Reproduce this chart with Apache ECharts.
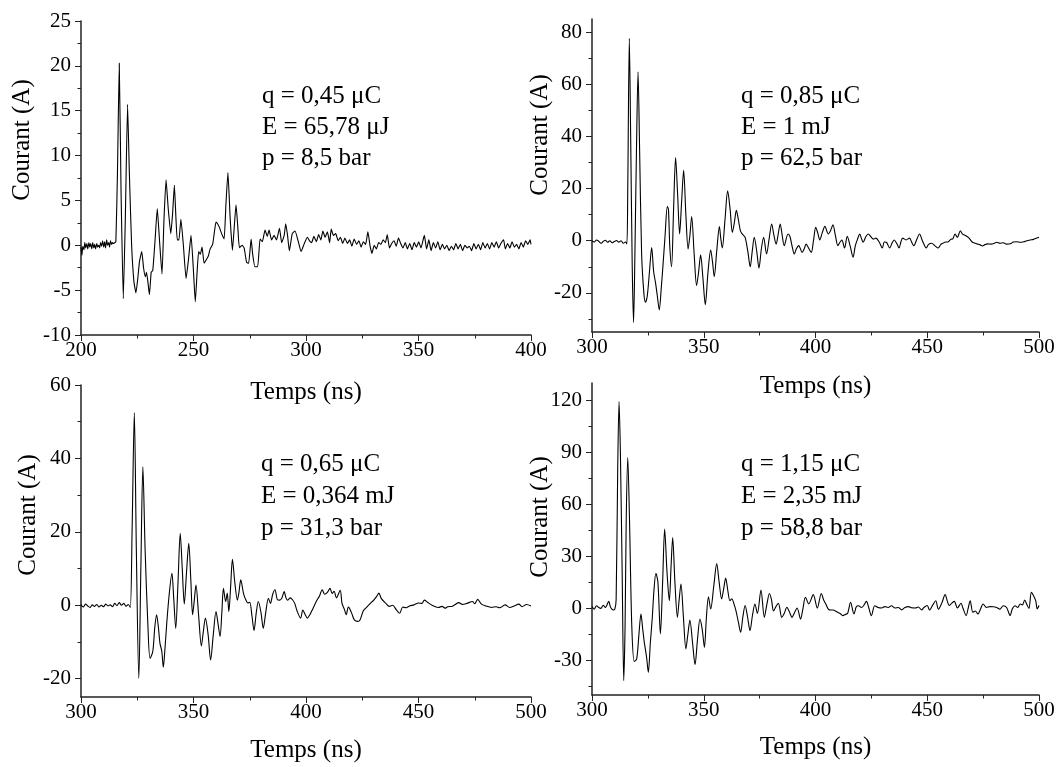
<!DOCTYPE html>
<html><head><meta charset="utf-8">
<script src="https://cdn.jsdelivr.net/npm/echarts@6/dist/echarts.min.js"></script>
<style>html,body{margin:0;padding:0;background:#fff}#c{width:1060px;height:767px}</style>
</head><body><div id="c"></div>
<script>
// ---------- Panel 1 (q = 0,45 µC) ----------
const time1 = [200.0,200.4,200.8,201.3,201.7,202.1,202.6,203.0,203.5,203.9,204.3,204.8,205.2,205.7,206.1,206.5,207.0,207.4,207.9,208.3,208.7,209.2,209.6,210.1,210.5,210.9,211.4,211.8,212.3,212.7,213.1,213.6,214.0,214.5,215.0,215.5,216.2,217.0,217.8,218.8,219.7,220.7,221.5,222.5,223.5,224.4,225.2,226.0,227.0,227.8,228.6,229.1,229.7,230.4,231.2,231.9,232.9,233.9,234.9,236.0,236.9,237.8,238.8,239.9,240.7,241.5,242.2,242.8,243.5,244.4,245.5,246.7,247.8,248.9,249.9,250.8,251.6,252.3,253.0,253.8,254.7,255.5,256.6,257.4,258.5,259.3,260.0,260.7,261.5,262.5,263.6,264.4,265.3,266.3,267.3,268.1,268.9,269.7,270.4,271.6,272.5,273.6,274.5,275.6,276.3,277.3,278.5,279.6,280.6,281.8,282.8,283.6,284.7,285.8,286.9,288.2,289.2,290.3,291.0,291.8,292.6,293.9,295.1,296.6,297.8,299.1,300.6,301.6,302.5,303.5,304.6,305.6,306.6,307.5,308.5,309.5,310.5,311.2,312.2,313.2,314.3,315.3,316.3,317.3,318.4,319.4,320.4,321.4,322.5,323.5,324.5,325.5,326.5,327.5,328.5,329.3,330.3,331.3,332.3,333.3,334.3,335.3,336.1,337.1,338.1,339.1,340.1,341.1,342.1,343.1,344.1,345.1,346.1,347.1,348.1,349.1,350.1,351.1,352.6,353.6,354.6,355.6,356.6,357.6,358.6,359.6,360.6,361.6,362.6,363.6,364.6,365.6,366.6,367.6,368.6,369.6,370.6,371.6,372.6,373.6,374.6,375.6,376.6,377.6,378.6,379.6,380.6,381.6,382.6,383.6,384.6,385.6,386.6,387.8,388.6,389.6,390.6,391.6,392.6,393.6,394.6,395.6,396.6,397.6,398.6,399.6,400.0];
const current1 = [-0.2,-1.1,-0.1,-0.5,0.3,-0.3,0.2,-0.4,0.3,-0.2,0.2,-0.4,0.3,-0.3,0.1,-0.4,0.2,-0.2,0.0,-0.3,0.3,-0.1,0.5,-0.2,0.4,-0.3,0.6,0.0,0.3,-0.2,0.5,0.1,0.3,0.2,0.3,0.4,8,20.3,6,-5.95,3,15.7,8,0,-4,-5.3,-3.8,-1.8,-0.7,-2.5,-3.5,-3.0,-4.0,-5.5,-3.0,-2.8,0.5,4.1,0.5,-3.2,3,7.3,4,1.3,3.5,6.7,3,0.6,0.6,2.9,0,-3.7,-1.5,1.1,-2.5,-6.3,-3,-0.7,-1.0,-0.2,-2.0,-1.7,-1.2,-0.4,0.1,1.5,2.6,2.4,2.0,1.3,0.7,4.5,8.1,3,-0.56,2,4.5,2,-0.26,0,-0.3,-1.9,-2.0,0.7,-1.0,-2.4,-2.4,0.7,0.4,1.7,1.0,1.7,0.6,1.1,0.6,1.9,0.3,1.1,2.4,1.1,-0.6,1.3,1.6,0.4,-0.7,0.1,0.9,0.5,0.3,1.0,0.4,1.2,0.6,1.6,0.9,1.5,0.3,1.8,1.1,1.3,0.5,0.9,0.2,0.8,0.2,0.6,-0.1,0.7,0.1,0.5,-0.2,0.4,0.1,1.5,-0.1,-0.9,0.0,-0.4,0.3,0.1,0.6,0.3,1.2,-0.3,0.2,0.5,-0.1,0.8,0.2,-0.3,0.3,-0.4,0.2,-0.5,0.3,-0.2,0.4,-0.3,1.1,-0.4,0.6,-0.6,0.3,-0.3,0.4,-0.5,0.1,-0.4,0.0,-0.6,-0.1,-0.5,0.2,-0.4,0.1,-0.6,0.0,-0.3,-0.1,-0.6,0.2,-0.4,0.1,-0.5,0.3,-0.3,0.2,-0.4,0.3,-0.2,0.4,-0.3,0.2,0.6,-0.4,0.2,-0.3,0.4,-0.2,0.1,-0.4,0.3,-0.2,0.5,0.1,0.6,0.1];

// ---------- Panel 2 (q = 0,85 µC) ----------
const time2 = [300,301,302,303,304,305,306,307,308,309,310,311,312,313,314,315,315.6,316.0,316.7,317.3,318.0,318.6,319.2,319.9,320.6,321.3,322.2,323.2,323.9,324.7,325.7,326.7,327.6,328.4,329.2,330.1,331.0,331.7,332.7,333.7,334.2,334.8,335.6,336.5,337.4,338.3,339.2,340.1,341.0,342.0,343.0,343.8,344.6,345.7,346.8,347.7,348.6,349.6,350.7,351.9,353.1,353.9,354.7,355.8,357.0,357.6,358.3,359.5,360.7,361.8,362.8,363.7,364.6,365.5,366.4,367.3,368.5,369.7,370.8,371.7,372.6,373.7,374.7,375.8,376.8,378.1,379.3,380.4,381.4,382.4,383.3,384.2,385.1,386.0,387.7,388.6,389.5,390.5,391.5,392.5,393.2,394.0,395.0,395.8,397.0,398.1,399.1,400.1,401.0,401.9,403.0,404.2,405.7,406.8,407.8,408.9,410.0,411.0,411.8,413.0,414.2,415.5,416.8,417.8,418.8,419.8,420.5,421.3,422.5,423.6,424.8,425.9,427.0,428.5,429.9,430.8,431.7,433.2,434.2,435.2,436.3,437.4,438.2,439.0,440.5,442.1,443.0,444.0,445.3,446.6,447.4,448.1,449.6,450.5,452.0,453.5,454.9,456.0,457.0,458.2,459.1,460.5,461.5,462.4,463.5,464.8,465.8,467.1,468.5,470.1,471.5,472.5,473.5,474.7,475.8,477.0,478.5,480.0,481.1,482.5,484.0,485.5,487.2,488.5,490.0,491.5,493.2,494.5,496.0,497.5,499.0,500.0];
const current2 = [0.0,-0.5,0.3,-0.2,-1.0,-0.3,0.2,-0.6,0.0,-0.8,-0.3,0.1,-0.6,0.0,-1.0,-0.5,-1.2,20,77.6,40,-10,-31.3,-5,35,64.8,35,-5,-20,-23.6,-21.4,-12,-2.6,-12,-16,-21,-26.5,-18,-10.2,2,13.1,12,-2,-10,12,31.9,18,2.6,15,27,10,-3.2,2,9.3,-5,-17.2,-12,-5.4,-14,-24.5,-12,-3.6,-8,-13.8,-4,5.4,1,-2.8,8,19.1,12,3.2,7,11.7,8,3.8,2.5,1.3,-4,-10,-4,1.3,-4,-10.5,-3,1.3,-5.1,1,6.4,2,-1.3,2.5,6.4,2,-1.9,2.6,1.5,-2,-5.1,-3,-1.9,-3,-4.5,-3,-1.3,-3,-4.5,0,5.1,3,0.3,3,5.5,2.6,4,6.1,2,-1.9,-0.5,0.3,-2.8,1.7,-2,-6.3,-2,0.6,2.6,1.0,-0.6,1.5,2.6,1.5,0.6,1.0,-0.5,-2.8,-0.5,-0.6,-2.8,-1,0.3,-1,-2.8,-0.5,1.0,0.3,1.0,-0.5,-1.9,0.5,2.6,1,-0.6,-2.8,-1.5,-1.0,-2,-2.8,-1.5,-1.0,-0.5,-0.5,0.5,0.8,2.6,1.3,3.8,2.5,2.0,1.2,-0.5,-1.0,-1.3,-1.5,-2.0,-1.5,-1.2,-1.3,-1.0,-0.6,-1.0,-0.8,-1.3,-1.2,-0.5,-0.4,-0.6,-0.4,0.0,0.3,0.5,1.0,1.3];

// ---------- Panel 3 (q = 0,65 µC) ----------
const time3 = [300,301,302,303,304,305,306,307,308,309,310,311,312,313,314,315,316,317,318,319,320,321,321.9,322.7,323.7,324.6,325.7,326.6,327.5,328.5,329.7,330.7,331.9,332.8,333.6,334.4,335.1,335.9,336.6,337.3,338.1,339.2,340.4,341.2,342.1,343.1,344.1,345.0,345.9,346.9,347.9,348.8,349.6,350.3,351.1,352.3,353.5,354.4,355.3,356.5,357.6,358.8,360.0,360.9,361.8,362.6,363.3,364.3,365.0,365.7,366.5,367.3,368.4,369.5,370.2,371.0,372.3,373.3,374.2,375.0,376.0,376.9,377.9,378.8,380.0,381.0,382.1,383.3,384.2,385.2,386.2,387.3,388.3,389.3,390.3,391.1,391.8,393.0,394.0,395.0,396.0,397.6,398.6,399.6,400.6,401.8,403.0,404.9,406.0,407.2,408.3,409.5,410.7,411.6,412.5,413.5,415.2,416.0,417.0,417.9,418.8,419.5,420.5,421.5,423.0,424.0,425.5,427.0,428.6,430.1,431.5,432.4,433.5,435.5,437.0,438.5,440.1,441.6,443.0,444.5,446.0,448.0,450.0,451.5,452.6,454.0,456.0,458.8,460.5,461.8,463.0,465.0,467.9,469.5,471.5,474.0,475.0,476.3,478.0,480.0,482.4,484.5,486.0,488.5,490.5,492.5,494.6,496.0,498.0,500.0];
const current3 = [0.2,-0.5,0.3,-0.2,-0.6,0.1,-0.3,0.2,-0.5,0.0,-0.4,0.3,-0.2,0.1,-0.4,0.5,-0.1,0.7,0.0,0.5,-0.3,0.2,-0.6,20,52.4,15,-19.9,10,37.7,15,-5,-14.5,-12.6,-6,-2.6,-6,-10.4,-12.5,-16.9,-12,-5,3,8.7,2,-6.3,6,19.6,10,0.35,9,16.9,7,-2.6,1,5.5,-3,-11.1,-7,-3.5,-8,-14.9,-8,-1.7,-5,-8.5,-2,4.6,1.0,3.3,-1.7,5,12.5,6,1.4,3.5,6.9,3,1.4,0.6,0.8,-3,-6.9,-2,1.0,-2,-6.3,-2,1.9,0.5,3,4.2,1.5,1.4,2,3.7,2,1.4,2.0,1.5,0.5,-1.5,-3.5,-1.3,-2.5,-3.5,-2.5,-1.0,1.4,2.5,4.2,3.0,3.5,4.6,3.2,3.8,2.0,4.1,0.5,-1.0,-2.6,-0.5,-1.0,-2.5,-4.0,-4.4,-4.0,-1.5,-0.5,0.5,1.4,2.5,3.3,1.8,0.5,-0.3,0.0,-1.2,-2.2,-0.5,-0.7,-0.2,0.1,0.6,0.5,1.4,0.8,0.0,-0.6,-0.3,-0.8,-0.4,-0.3,0.7,0.2,0.5,1.0,0.4,1.6,0.3,-0.2,-0.6,-0.4,-0.7,0.1,-0.6,-0.2,0.3,-0.4,0.2,-0.2];

// ---------- Panel 4 (q = 1,15 µC) ----------
const time4 = [300,301,302,303,304,305,306,307.5,308.2,308.9,309.5,310.2,310.8,311.5,312.1,312.7,313.5,314.2,314.8,315.3,316.0,316.8,317.8,318.9,320.0,321.0,321.9,322.7,323.4,324.4,325.2,326.1,327.0,327.7,328.6,329.5,330.6,331.6,332.5,333.6,334.6,335.4,336.1,337.1,338.2,339.0,339.8,340.9,342.0,342.9,343.8,345.0,346.1,347.2,348.3,349.3,350.3,351.2,352.1,353.1,354.5,355.8,356.9,358.0,359.0,359.8,360.8,361.7,362.6,363.4,364.4,365.5,366.5,367.5,368.5,369.6,370.7,371.8,372.9,374.0,375.6,377.1,378.2,379.4,380.3,381.2,382.3,383.4,384.9,386.0,387.2,388.3,389.5,390.6,391.8,393.3,394.4,395.5,397.0,399.0,400.8,402.6,403.6,404.6,406.1,408.0,409.9,411.0,412.2,413.4,414.4,415.7,417.2,418.3,419.3,420.5,421.5,422.8,423.8,425.0,426.5,428.0,429.6,431.0,432.5,434.0,435.6,437.0,438.6,440.0,441.7,443.0,444.7,446.0,447.5,448.5,450.0,451.0,452.5,453.8,455.0,456.5,458.0,459.0,459.8,461.0,462.1,463.5,465.1,466.0,467.4,468.3,469.2,470.4,471.5,472.7,473.8,475.0,476.5,478.0,479.5,481.0,482.5,484.0,485.5,487.1,488.0,489.3,490.5,491.6,492.6,493.6,494.6,495.5,496.6,497.9,498.6,499.2,500.0];
const current4 = [1.0,-0.5,1.5,0.5,0.0,1.8,0.5,4.0,1.0,-0.5,-1.0,-0.5,5,80,119.3,90,20,-41.7,-10,50,87,50,-10,-30.7,-29.2,-15,-3.3,-12,-19.6,-28,-36.9,-20,-5,10,20.2,15,-14.8,15,45.7,20,4.4,25,40.9,15,-5.2,5,14.0,-5,-23.4,-15,-6.7,-20,-32.5,-18,-6.2,-12,-22.5,-5,6.7,-0.4,13,25.9,15,5.4,12,17.5,10,4.4,5.5,3,-1.3,-8,-13.8,-5,1.6,-5,-12.9,-4,2.5,-3,10.6,-5.2,2,8.6,5,-1.5,1,2.9,-5.2,-3,0.6,-2,-5.2,-2.5,0.2,-6.2,0,6.4,2.5,7.9,0.2,8.6,5,2.5,-0.9,-1,-2.3,-3,-4.2,-3.5,-2.8,3.5,-3.2,1,1.5,0.5,1.5,4.0,0.5,-4.2,1.5,0.5,0.2,1.0,0.5,1.5,0.2,0.5,-0.9,0.5,1.0,0.3,0.2,0.8,-0.9,0.5,1.6,-1.0,2,4.4,-0.5,3,7.9,4,1.6,3,4.0,0.2,2.9,0,-4.2,0,4.4,-2.3,-1.5,-3.3,-0.5,2.5,0.5,1.0,0.9,0.5,-0.5,1.5,0.5,-4.2,-0.5,1.5,0.5,2.5,2,4.8,2,0,9.2,6.4,4,-0.4,1.6];

// ---------- Axis ticks ----------
const xTicksA = [200,250,300,350,400], xMinorA = [225,275,325,375];
const xTicksB = [300,350,400,450,500], xMinorB = [325,375,425,475];
const yTicks1 = [-10,-5,0,5,10,15,20,25], yMinor1 = [-7.5,-2.5,2.5,7.5,12.5,17.5,22.5];
const yTicks2 = [-20,0,20,40,60,80], yMinor2 = [-30,-10,10,30,50,70];
const yTicks3 = [-20,0,20,40,60], yMinor3 = [-10,10,30,50];
const yTicks4 = [-30,0,30,60,90,120], yMinor4 = [-45,-15,15,45,75,105];

// ---------- Texts ----------
const xTitle = 'Temps (ns)';
const yTitle = 'Courant (A)';
const notes1 = ['q = 0,45 μC','E = 65,78 μJ','p = 8,5 bar'];
const notes2 = ['q = 0,85 μC','E = 1 mJ','p = 62,5 bar'];
const notes3 = ['q = 0,65 μC','E = 0,364 mJ','p = 31,3 bar'];
const notes4 = ['q = 1,15 μC','E = 2,35 mJ','p = 58,8 bar'];

const FONT = 'Liberation Serif';
const panels = [
  {grid:{left:81,top:21,width:450,height:314}, xr:[200,400], xt:xTicksA, xm:xMinorA, yr:[-10,25], yt:yTicks1, ym:yMinor1, t:time1, v:current1, smooth:0.15, gap:45, yName:[22,140], notes:notes1, nx:262, ny:[96,127,158]},
  {grid:{left:592,top:19,width:447,height:313}, xr:[300,500], xt:xTicksB, xm:xMinorB, yr:[-35,85], yt:yTicks2, ym:yMinor2, t:time2, v:current2, smooth:0.3, gap:42, yName:[540,135], notes:notes2, nx:741, ny:[96,127,158]},
  {grid:{left:81,top:385,width:450,height:312}, xr:[300,500], xt:xTicksB, xm:xMinorB, yr:[-25,60], yt:yTicks3, ym:yMinor3, t:time3, v:current3, smooth:0.3, gap:41, yName:[28,515], notes:notes3, nx:261, ny:[464,496,528]},
  {grid:{left:592,top:383,width:447,height:312}, xr:[300,500], xt:xTicksB, xm:xMinorB, yr:[-50,130], yt:yTicks4, ym:yMinor4, t:time4, v:current4, smooth:0.3, gap:40, yName:[540,517], notes:notes4, nx:741, ny:[464,496,528]}
];

const axisSt = {color:'#222', width:1.5};
const tickSt = {color:'#222', width:1};
const labelSt = {fontFamily:FONT, fontSize:21, color:'#000'};
const grids = [], xAxes = [], yAxes = [], series = [], graphics = [];

panels.forEach((p, i) => {
  grids.push(Object.assign({containLabel:false}, p.grid));
  xAxes.push({type:'value', gridIndex:i, min:p.xr[0], max:p.xr[1], position:'bottom',
    name:xTitle, nameLocation:'middle', nameGap:p.gap,
    nameTextStyle:{fontFamily:FONT, fontSize:25, color:'#000'},
    axisLine:{show:true, onZero:false, lineStyle:axisSt},
    axisTick:{show:true, inside:false, length:6, customValues:p.xt, lineStyle:tickSt},
    axisLabel:Object.assign({show:true, margin:5, customValues:p.xt}, labelSt),
    splitLine:{show:false}});
  xAxes.push({type:'value', gridIndex:i, min:p.xr[0], max:p.xr[1], position:'bottom', offset:0,
    axisLine:{show:false, onZero:false},
    axisTick:{show:true, inside:false, length:3.5, customValues:p.xm, lineStyle:tickSt},
    axisLabel:{show:false}, splitLine:{show:false}});
  yAxes.push({type:'value', gridIndex:i, min:p.yr[0], max:p.yr[1], position:'left',
    axisLine:{show:true, onZero:false, lineStyle:axisSt},
    axisTick:{show:true, inside:false, length:6, customValues:p.yt, lineStyle:tickSt},
    axisLabel:Object.assign({show:true, margin:10, customValues:p.yt}, labelSt),
    splitLine:{show:false}});
  yAxes.push({type:'value', gridIndex:i, min:p.yr[0], max:p.yr[1], position:'left', offset:0,
    axisLine:{show:false, onZero:false},
    axisTick:{show:true, inside:false, length:3.5, customValues:p.ym, lineStyle:tickSt},
    axisLabel:{show:false}, splitLine:{show:false}});

  series.push({type:'line', xAxisIndex:2*i, yAxisIndex:2*i, showSymbol:false, symbol:'none',
    smooth:p.smooth,
    lineStyle:{color:'#000', width:1.1}, itemStyle:{color:'#000'},
    data:p.t.map((x, k) => [x, p.v[k]]), clip:true, animation:false});

  graphics.push({type:'text', x:p.yName[0], y:p.yName[1], rotation:Math.PI/2,
    style:{text:yTitle, font:'25px "Liberation Serif"', fill:'#000', textAlign:'center', textVerticalAlign:'middle'}});
  p.notes.forEach((s, k) => {
    graphics.push({type:'text', x:p.nx, y:p.ny[k],
      style:{text:s, font:'25px "Liberation Serif"', fill:'#000', textAlign:'left', textVerticalAlign:'middle'}});
  });
});

const chart = echarts.init(document.getElementById('c'), null, {renderer:'canvas'});
chart.setOption({
  backgroundColor:'#fff', animation:false,
  grid:grids, xAxis:xAxes, yAxis:yAxes, series:series, graphic:graphics
});
</script>
</body></html>
